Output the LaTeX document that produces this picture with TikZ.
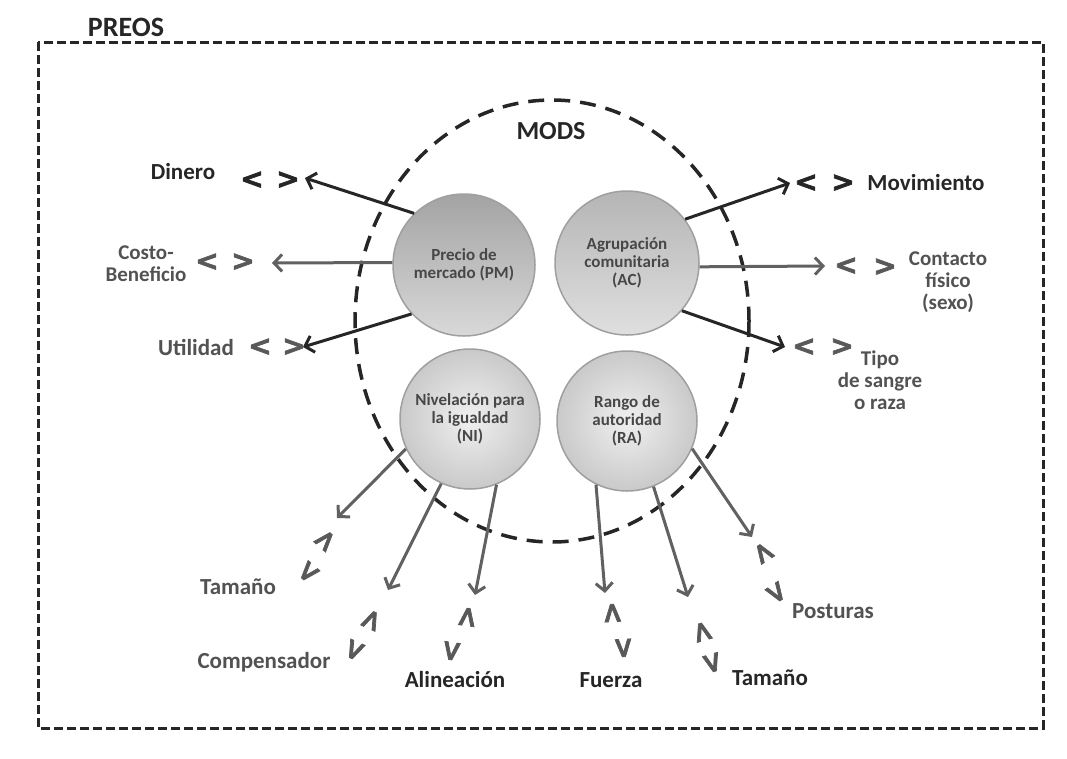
\documentclass[tikz,border=0pt]{standalone}
\usepackage{fontspec}
\setmainfont{Carlito}
\newfontfamily\chevfont[FakeBold=2.5]{DejaVu Sans Bold}
\usetikzlibrary{arrows.meta}
\begin{document}
\begin{tikzpicture}[x=1pt,y=-1pt,
  lbl/.style={font=\bfseries\fontsize{23}{23}\selectfont, text=black!85, align=center, inner sep=0pt},
  lblsoft/.style={lbl, text=black!68},
  lblsmall/.style={lblsoft, font=\bfseries\fontsize{21}{22}\selectfont},
  chev/.style={font=\chevfont\fontsize{28}{28}\selectfont, inner sep=0pt, text=black!85},
  chevsoft/.style={chev, text=black!65},
  ball/.style={circle, minimum size=140pt, inner sep=0pt, draw=gray!75, line width=1.5pt,
    align=center, font=\bfseries\fontsize{17}{18}\selectfont, text=black!72},
  arrdark/.style={line width=3pt, black!85, -{Straight Barb[length=8pt,width=17pt]}},
  arrsoft/.style={line width=3pt, black!62, -{Straight Barb[length=8pt,width=17pt]}},
  frame/.style={line width=3pt, black!85, dash pattern=on 9pt off 4pt},
  mods/.style={line width=3.5pt, black!85, dash pattern=on 16pt off 10pt}
]
\useasboundingbox (0,0) rectangle (1067,758);

% outer PREOS frame and its title
\draw[frame] (38,42) rectangle (1043,728);
\node[lbl, font=\bfseries\fontsize{28}{28}\selectfont] (preos) at (126,27) {PREOS};

% MODS boundary
\draw[mods] (552,321) ellipse[x radius=197, y radius=221];
\node[lbl, font=\bfseries\fontsize{26}{26}\selectfont] (mods) at (551,131) {MODS};

% end points of the arrows
\coordinate (tDin) at (305,178);
\coordinate (tCos) at (272,263);
\coordinate (tUti) at (303,347);
\coordinate (tMov) at (790,183);
\coordinate (tCon) at (825,266);
\coordinate (tTip) at (785,347);
\coordinate (tTa1) at (337,518);
\coordinate (tCom) at (388,590);
\coordinate (tAli) at (475,595);
\coordinate (tFue) at (605,593);
\coordinate (tTa2) at (688,597);
\coordinate (tPos) at (752,537);

% the four relational models
\shade[top color=gray!72, bottom color=gray!30] (464,265) circle[radius=71];
\shade[top color=gray!58, bottom color=gray!25] (627,263) circle[radius=72];
\shade[inner color=gray!12, outer color=gray!42] (470,419) circle[radius=70];
\shade[inner color=gray!12, outer color=gray!42] (627,421) circle[radius=70];
\node[ball, minimum size=142pt] (pm) at (464,265) {Precio de\\mercado (PM)};
\node[ball, minimum size=144pt] (ac) at (627,263) {Agrupación\\comunitaria\\(AC)};
\node[ball] (ni) at (470,419) {Nivelación para\\la igualdad\\(NI)};
\node[ball] (ra) at (627,421) {Rango de\\autoridad\\(RA)};

% arrows towards the left
\draw[arrdark] (pm.134) -- (tDin);
\draw[arrsoft] (pm.178) -- (tCos);
\draw[arrdark] (pm.223) -- (tUti);
% arrows towards the right
\draw[arrdark] (ac.37) -- (tMov);
\draw[arrsoft] (ac.-3) -- (tCon);
\draw[arrdark] (ac.-41) -- (tTip);
% arrows downwards
\draw[arrsoft] (ni.205) -- (tTa1);
\draw[arrsoft] (ni.246) -- (tCom);
\draw[arrsoft] (ni.292) -- (tAli);
\draw[arrsoft] (ra.244) -- (tFue);
\draw[arrsoft] (ra.292) -- (tTa2);
\draw[arrsoft] (ra.337) -- (tPos);

% ranges < > at the end of each arrow
\node[chev] (cDin1) at (252,180) {<};
\node[chev] (cDin2) at (288,180) {>};
\node[chevsoft] (cCos1) at (207,262) {<};
\node[chevsoft] (cCos2) at (243,262) {>};
\node[chevsoft] (cUti1) at (260,347) {<};
\node[chevsoft] (cUti2) at (294,347) {>};
\node[chev] (cMov1) at (806,183) {<};
\node[chev] (cMov2) at (843,183) {>};
\node[chevsoft] (cCon1) at (846,266) {<};
\node[chevsoft] (cCon2) at (885,267) {>};
\node[chevsoft] (cTip1) at (804,347) {<};
\node[chevsoft] (cTip2) at (842,347) {>};
\node[chevsoft, rotate=229] (cTa11) at (325,540) {<};
\node[chevsoft, rotate=229] (cTa12) at (308,572) {>};
\node[chevsoft, rotate=246] (cCom1) at (371,620) {<};
\node[chevsoft, rotate=246] (cCom2) at (354,650) {>};
\node[chevsoft, rotate=262] (cAli1) at (467,617) {<};
\node[chevsoft, rotate=262] (cAli2) at (451,651) {>};
\node[chevsoft, rotate=273] (cFue1) at (612,613) {<};
\node[chevsoft, rotate=273] (cFue2) at (623,648) {>};
\node[chevsoft, rotate=286] (cTa21) at (702,632) {<};
\node[chevsoft, rotate=286] (cTa22) at (712,663) {>};
\node[chevsoft, rotate=303] (cPos1) at (763,553) {<};
\node[chevsoft, rotate=303] (cPos2) at (776,593) {>};

% labels
\node[lbl] (din) at (183,172) {Dinero};
\node[lblsmall] (cos) at (146,264) {Costo-\\Beneficio};
\node[lblsoft] (uti) at (196,347) {Utilidad};
\node[lbl] (mov) at (926,183) {Movimiento};
\node[lblsmall] (con) at (948,282) {Contacto\\físico\\(sexo)};
\node[lblsmall] (tip) at (880,380) {Tipo\\de sangre\\o raza};
\node[lblsoft] (ta1) at (238,587) {Tamaño};
\node[lblsoft] (com) at (264,662) {Compensador};
\node[lbl] (ali) at (455,680) {Alineación};
\node[lbl] (fue) at (611,680) {Fuerza};
\node[lbl] (ta2) at (770,678) {Tamaño};
\node[lblsoft] (pos) at (833,611) {Posturas};
\end{tikzpicture}
\end{document}
